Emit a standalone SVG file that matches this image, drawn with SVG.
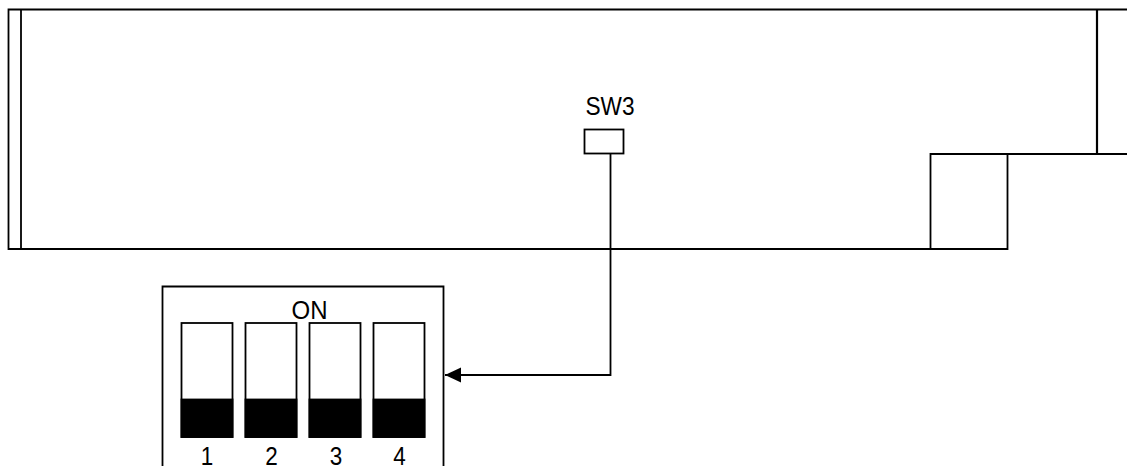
<svg xmlns="http://www.w3.org/2000/svg" width="1127" height="466" viewBox="0 0 1127 466">
<defs>
<style>
.l{fill:none;stroke:#000;stroke-width:1.8}
.w{fill:#fff;stroke:#000;stroke-width:1.8}
.b{fill:#000;stroke:#000;stroke-width:1.8}
text{font-family:"Liberation Sans",Arial,sans-serif;font-size:26px;fill:#000;text-anchor:middle}
</style>
<marker id="arrow" markerUnits="userSpaceOnUse" markerWidth="18" markerHeight="16" refX="16" refY="7.500" orient="auto">
<path d="M0 0L16 7.500L0 15Z" fill="#000"/>
</marker>
</defs>
<rect width="1127" height="466" fill="#fff"/>
<g id="board">
<path class="l" d="M1127 9.500H8.500V249H1007.500V154H1127"/>
<path class="l" d="M21 9.500V249"/>
<path class="l" style="stroke-width:2.200" d="M1097 9.500V154"/>
<path class="l" d="M930.500 249V154H1007.500"/>
</g>
<g id="sw3">
<rect class="w" x="584.500" y="129.500" width="39" height="24"/>
<text x="610" y="115" textLength="49" lengthAdjust="spacingAndGlyphs">SW3</text>
</g>
<g id="dip">
<path class="l" d="M162.500 466V286.500H443.500V466"/>
<text x="309.500" y="319" textLength="36" lengthAdjust="spacingAndGlyphs">ON</text>
<g id="sw1"><rect class="w" x="181.500" y="323" width="51" height="114"/><rect class="b" x="181.500" y="399.500" width="51" height="37.500"/><text x="207" y="465" textLength="12.500" lengthAdjust="spacingAndGlyphs">1</text></g>
<g id="sw2"><rect class="w" x="245.500" y="323" width="51" height="114"/><rect class="b" x="245.500" y="399.500" width="51" height="37.500"/><text x="271.500" y="465" textLength="12.500" lengthAdjust="spacingAndGlyphs">2</text></g>
<g id="sw3-pos"><rect class="w" x="309.500" y="323" width="51" height="114"/><rect class="b" x="309.500" y="399.500" width="51" height="37.500"/><text x="336" y="465" textLength="12.500" lengthAdjust="spacingAndGlyphs">3</text></g>
<g id="sw4"><rect class="w" x="373.500" y="323" width="51" height="114"/><rect class="b" x="373.500" y="399.500" width="51" height="37.500"/><text x="399.500" y="465" textLength="12.500" lengthAdjust="spacingAndGlyphs">4</text></g>
</g>
<g id="connectors">
<path class="l" marker-end="url(#arrow)" d="M610.500 154V375H445"/>
</g>
</svg>
